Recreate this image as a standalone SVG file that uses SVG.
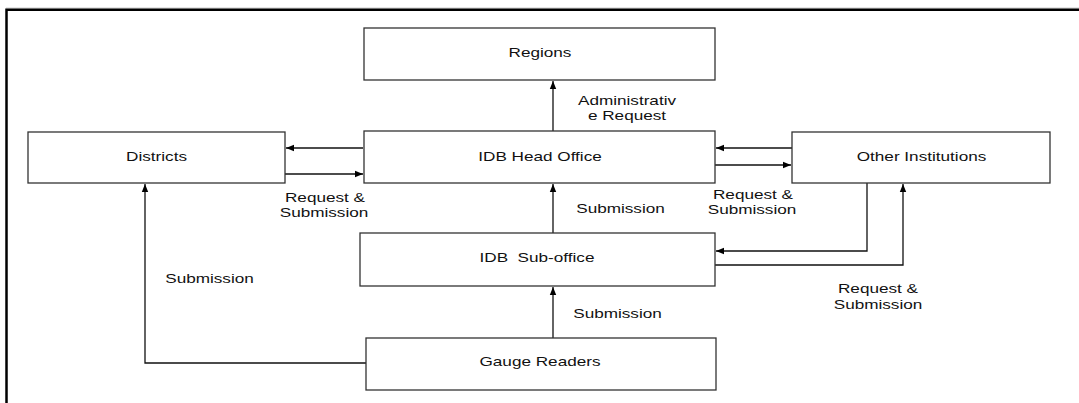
<svg xmlns="http://www.w3.org/2000/svg" width="1079" height="403" viewBox="0 0 1079 403">
<style>
.box{fill:#fff;stroke:#333;stroke-width:1.3}
.lbl{font-family:"Liberation Sans",Arial,sans-serif;font-size:13.5px;fill:#111;text-anchor:middle}
.c{fill:none;stroke:#111;stroke-width:1.3}
.frame{stroke:#000;stroke-width:2.5;fill:none}
</style>
<defs>
<marker id="ah" viewBox="0 0 10 10" refX="10" refY="5" markerWidth="8" markerHeight="8" markerUnits="userSpaceOnUse" orient="auto">
<path d="M0,1 L10,5 L0,9 z" fill="#000"/>
</marker>
</defs>
<rect width="1079" height="403" fill="#fff"/>
<line x1="6" y1="8" x2="1079" y2="8" stroke="#ccc" stroke-width="1"/>
<path class="frame" d="M6.5,403 V9.8 H1079"/>
<g id="connectors">
<path class="c" d="M553,131 V81" marker-end="url(#ah)"/>
<path class="c" d="M363,148 H286" marker-end="url(#ah)"/>
<path class="c" d="M285,174 H363" marker-end="url(#ah)"/>
<path class="c" d="M792,148 H716" marker-end="url(#ah)"/>
<path class="c" d="M715,165 H791" marker-end="url(#ah)"/>
<path class="c" d="M553,233 V184" marker-end="url(#ah)"/>
<path class="c" d="M553,338 V287" marker-end="url(#ah)"/>
<path class="c" d="M366,363 H145 V184" marker-end="url(#ah)"/>
<path class="c" d="M867,183 V251 H716" marker-end="url(#ah)"/>
<path class="c" d="M715,265 H903 V184" marker-end="url(#ah)"/>
</g>
<g id="regions"><rect class="box" x="364" y="28" width="351" height="52"/><text class="lbl" transform="translate(540 57) scale(1.27 1)">Regions</text></g>
<g id="districts"><rect class="box" x="28" y="132" width="257" height="51"/><text class="lbl" transform="translate(156.5 161) scale(1.27 1)">Districts</text></g>
<g id="head-office"><rect class="box" x="364" y="131" width="351" height="52"/><text class="lbl" transform="translate(540 161) scale(1.27 1)">IDB Head Office</text></g>
<g id="other-institutions"><rect class="box" x="792" y="132" width="258" height="51"/><text class="lbl" transform="translate(921.5 161) scale(1.27 1)">Other Institutions</text></g>
<g id="sub-office"><rect class="box" x="360" y="233" width="355" height="53"/><text class="lbl" xml:space="preserve" transform="translate(537 262) scale(1.27 1)">IDB  Sub-office</text></g>
<g id="gauge-readers"><rect class="box" x="366" y="338" width="350" height="52"/><text class="lbl" transform="translate(540 366) scale(1.27 1)">Gauge Readers</text></g>
<g id="labels">
<text class="lbl" transform="translate(627 105) scale(1.27 1)">Administrativ</text>
<text class="lbl" transform="translate(627 120) scale(1.27 1)">e Request</text>
<text class="lbl" transform="translate(325 202) scale(1.27 1)">Request &amp;</text>
<text class="lbl" transform="translate(324 217) scale(1.27 1)">Submission</text>
<text class="lbl" transform="translate(753 199) scale(1.27 1)">Request &amp;</text>
<text class="lbl" transform="translate(752 214) scale(1.27 1)">Submission</text>
<text class="lbl" transform="translate(620.5 213) scale(1.27 1)">Submission</text>
<text class="lbl" transform="translate(209.5 282.5) scale(1.27 1)">Submission</text>
<text class="lbl" transform="translate(617.5 318) scale(1.27 1)">Submission</text>
<text class="lbl" transform="translate(878 293) scale(1.27 1)">Request &amp;</text>
<text class="lbl" transform="translate(878 309) scale(1.27 1)">Submission</text>
</g>
</svg>
